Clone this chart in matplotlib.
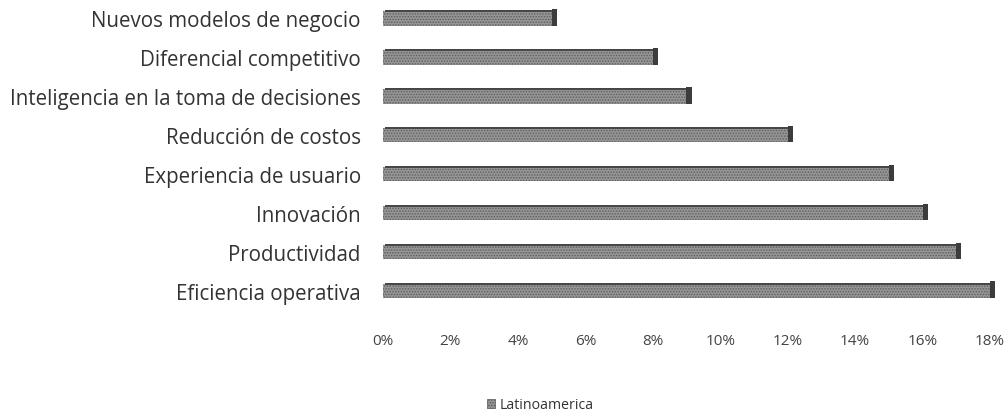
import matplotlib
matplotlib.use("Agg")
import matplotlib.pyplot as plt
from matplotlib.patches import Patch
from matplotlib.ticker import FuncFormatter

plt.rcParams["font.family"] = ["Open Sans", "DejaVu Sans"]
plt.rcParams["hatch.linewidth"] = 0.7
plt.rcParams["hatch.color"] = "#5e5e5e"

categories = [
    "Eficiencia operativa",
    "Productividad",
    "Innovación",
    "Experiencia de usuario",
    "Reducción de costos",
    "Inteligencia en la toma de decisiones",
    "Diferencial competitivo",
    "Nuevos modelos de negocio",
]
values = [18, 17, 16, 15, 12, 9, 8, 5]
series_name = "Latinoamerica"
x_ticks = [0, 2, 4, 6, 8, 10, 12, 14, 16, 18]

fig = plt.figure(figsize=(10.06, 4.14), dpi=100)
ax = fig.add_axes([0.3807, 0.2476, 0.6034, 0.7524])

pos = list(range(len(categories)))
bar_h = 0.37
depth_x = 0.15   # side face depth, in percent units
depth_y = 0.06   # top face depth, in category units

face = "#959595"
ax.barh(pos, values, height=bar_h, color=face, hatch="......",
        linewidth=0.0, zorder=2, clip_on=False)
# top face of each 3D bar
ax.barh([p + bar_h / 2 for p in pos], values, height=depth_y,
        left=[depth_x / 3] * len(values), color="#474747", linewidth=0, zorder=3,
        clip_on=False)
# right side face
ax.barh([p + depth_y / 2 for p in pos], [depth_x] * len(values), height=bar_h + depth_y,
        left=values, color="#3c3c3c", linewidth=0, zorder=3, clip_on=False)

ax.set_xlim(0, 18)
ax.set_ylim(-0.5, len(categories) - 0.5)
ax.set_yticks(pos)
ax.set_yticklabels(categories)
ax.set_xticks(x_ticks)
ax.xaxis.set_major_formatter(FuncFormatter(lambda v, _: f"{v:.0f}%"))

for s in ax.spines.values():
    s.set_visible(False)
ax.tick_params(axis="y", length=0, pad=16, labelsize=14.8, labelcolor="#333333")
ax.tick_params(axis="x", length=0, pad=16, labelsize=11, labelcolor="#444444")

fig.legend(handles=[Patch(facecolor=face, hatch="......", edgecolor="#555555", linewidth=0.5)],
           labels=[series_name], loc="center", bbox_to_anchor=(540 / 1006, 1 - 406 / 414),
           frameon=False, fontsize=10.2, handlelength=0.6, handleheight=0.6,
           handletextpad=0.3, labelcolor="#333333")

fig.savefig("out.png", dpi=100)
